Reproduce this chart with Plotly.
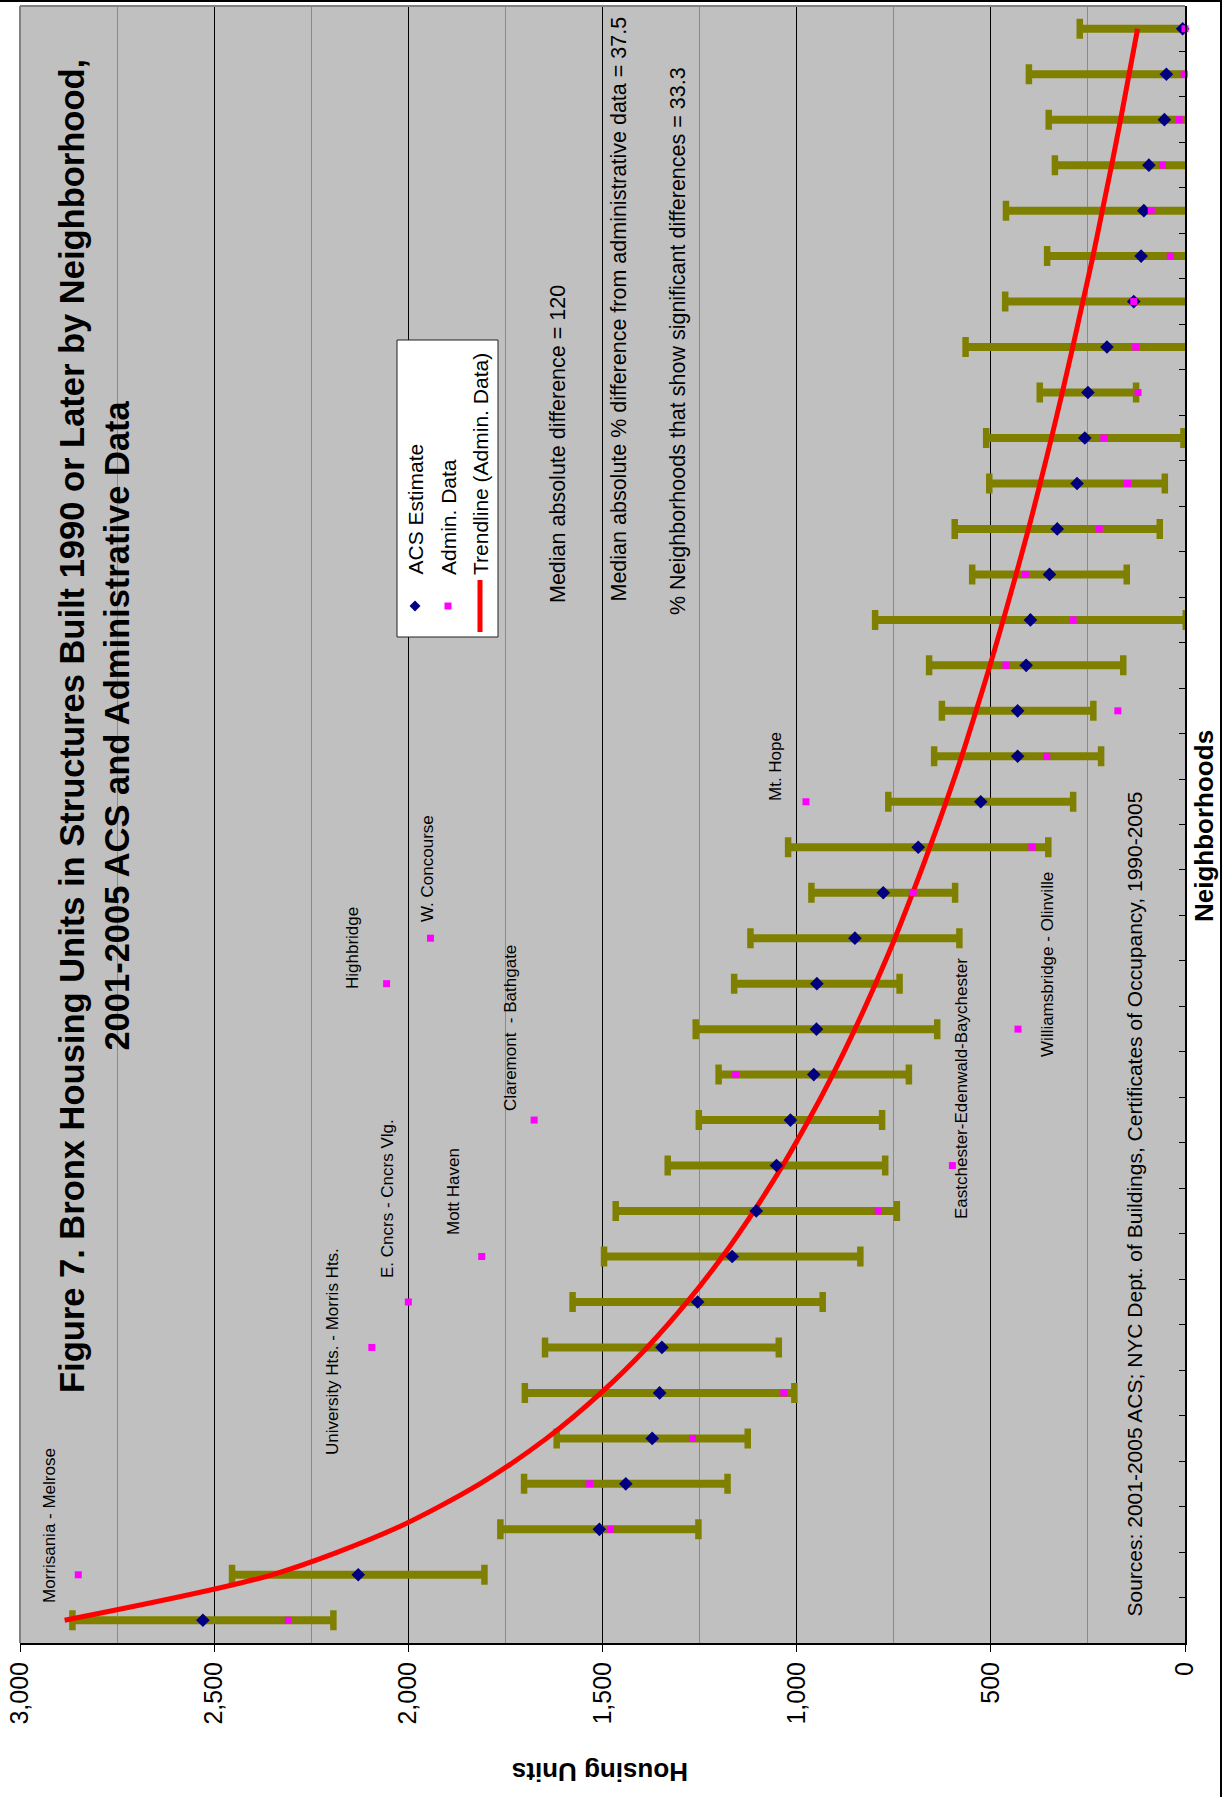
import plotly.graph_objects as go

# ---------------- data ----------------
rank = [1, 2, 3, 4, 5, 6, 7, 8, 9, 10, 11, 12, 13, 14, 15, 16, 17, 18,
        19, 20, 21, 22, 23, 24, 25, 26, 27, 28, 29, 30, 31, 32, 33, 34, 35, 36]
acs_estimate = [2529, 2129, 1508, 1440, 1372, 1353, 1347, 1255, 1166, 1104, 1052, 1016,
                956, 949, 948, 850, 777, 687, 526, 431, 431, 409, 398, 349,
                329, 278, 258, 250, 201, 132, 113, 106, 93, 53, 48, 6]
acs_moe = [336, 325, 255, 262, 246, 347, 301, 322, 330, 362, 280, 236,
           245, 311, 213, 269, 185, 335, 238, 215, 195, 250, 400, 199,
           264, 226, 254, 124, 364, 331, 242, 355, 242, 298, 354, 265]
admin_data = [2309, 2850, 1480, 1533, 1268, 1033, 2094, 2000, 1811, 790, 599, 1676,
              1157, 430, 2056, 1943, 700, 394, 976, 356, 173, 461, 288, 411,
              221, 148, 209, 121, 127, 132, 38, 87, 58, 15, 2, 0]
trend_admin = [2885, 2351, 2038, 1816, 1644, 1504, 1385, 1282, 1191, 1110, 1036, 969,
               907, 850, 797, 747, 701, 657, 615, 575, 538, 502, 468, 435,
               403, 373, 344, 316, 289, 263, 237, 213, 189, 166, 144, 122]
tick_vals = [0, 500, 1000, 1500, 2000, 2500, 3000]
tick_text = ["0", "500", "1,000", "1,500", "2,000", "2,500", "3,000"]
outlier_names = ["Morrisania - Melrose", "University Hts. - Morris Hts.", "E. Cncrs - Cncrs Vlg.",
                 "Mott Haven", "Claremont  - Bathgate", "Highbridge", "W. Concourse",
                 "Eastchester-Edenwald-Baychester", "Williamsbridge - Olinville", "Mt. Hope"]
stats_lines = ["Median absolute difference = 120",
               "Median absolute % difference from administrative data = 37.5",
               "% Neighborhoods that show significant differences = 33.3"]
title_text = ("Figure 7. Bronx Housing Units in Structures Built 1990 or Later by Neighborhood,"
              "<br>2001-2005 ACS and Administrative Data")
source_text = "Sources: 2001-2005 ACS; NYC Dept. of Buildings, Certificates of Occupancy, 1990-2005"
legend_names = ["ACS Estimate", "Admin. Data", "Trendline (Admin. Data)"]

# ---------------- layout helpers (page pixel -> paper) ----------------
L, R, T, B = 20, 40, 6, 154
W, H = 1225, 1797
PW, PH = W - L - R, H - T - B


def px(x):
    return (x - L) / PW


def py(y):
    return (H - B - y) / PH


FONT = "Liberation Sans, Arial, sans-serif"
OLIVE = "#808000"
NAVY = "#000080"
MAGENTA = "#FF00FF"

# label centres on the page (pixels)
label_pos = [(49, 1526), (332, 1352), (387, 1199), (453, 1192), (510, 1028),
             (352, 948), (427, 869), (961, 1089), (1047, 965), (776, 766)]

fig = go.Figure()

# error bar body (no caps)
fig.add_trace(go.Scatter(
    x=acs_estimate, y=rank, mode="markers",
    marker=dict(size=1, color=OLIVE),
    error_x=dict(type="data", array=acs_moe, symmetric=True,
                 color=OLIVE, thickness=8, width=0),
    hoverinfo="skip"))
# error bar caps
fig.add_trace(go.Scatter(
    x=acs_estimate, y=rank, mode="markers",
    marker=dict(size=1, color=OLIVE),
    error_x=dict(type="data", array=acs_moe, symmetric=True,
                 color=OLIVE, thickness=6.5, width=10),
    hoverinfo="skip"))
# trendline
fig.add_trace(go.Scatter(
    x=trend_admin, y=rank, mode="lines", name=legend_names[2],
    line=dict(color="#FF0000", width=5, shape="spline", smoothing=0.8)))
# ACS estimate
fig.add_trace(go.Scatter(
    x=acs_estimate, y=rank, mode="markers", name=legend_names[0], cliponaxis=False,
    marker=dict(symbol="diamond", size=10.5, color=NAVY)))
# Admin data
fig.add_trace(go.Scatter(
    x=admin_data, y=rank, mode="markers", name=legend_names[1], cliponaxis=False,
    marker=dict(symbol="square", size=7, color=MAGENTA)))

annotations = []
# title
annotations.append(dict(
    text="<b>" + title_text + "</b>", x=px(94), y=py(726), xref="paper", yref="paper",
    xanchor="center", yanchor="middle", textangle=-90, showarrow=False,
    font=dict(family=FONT, size=34.5, color="black"), align="center"))
# axis titles
annotations.append(dict(
    text="<b>Housing Units</b>", x=px(600), y=py(1772), xref="paper", yref="paper",
    xanchor="center", yanchor="middle", textangle=180, showarrow=False,
    font=dict(family=FONT, size=26, color="black")))
annotations.append(dict(
    text="<b>Neighborhoods</b>", x=px(1204), y=py(826), xref="paper", yref="paper",
    xanchor="center", yanchor="middle", textangle=-90, showarrow=False,
    font=dict(family=FONT, size=26, color="black")))
# source
annotations.append(dict(
    text=source_text, x=px(1134), y=py(1619), xref="paper", yref="paper",
    xanchor="center", yanchor="bottom", textangle=-90, showarrow=False,
    font=dict(family=FONT, size=21, color="black")))
# stats
for txt, (sx, sy) in zip(stats_lines, [(558, 605), (618, 604), (678, 617)]):
    annotations.append(dict(
        text=txt, x=px(sx), y=py(sy), xref="paper", yref="paper",
        xanchor="center", yanchor="bottom", textangle=-90, showarrow=False,
        font=dict(family=FONT, size=21.5, color="black")))
# outlier labels
for name, (lx, ly) in zip(outlier_names, label_pos):
    annotations.append(dict(
        text=name, x=px(lx), y=py(ly), xref="paper", yref="paper",
        xanchor="center", yanchor="middle", textangle=-90, showarrow=False,
        font=dict(family=FONT, size=17, color="black")))
# legend texts
for name, lx in zip(legend_names, [415, 448, 480]):
    annotations.append(dict(
        text=name, x=px(lx), y=py(577), xref="paper", yref="paper",
        xanchor="center", yanchor="bottom", textangle=-90, showarrow=False,
        font=dict(family=FONT, size=21, color="black")))

shapes = []
# plot-area border (left & top, grey)
shapes.append(dict(type="line", xref="paper", yref="paper", x0=0, x1=0, y0=0, y1=1,
                   line=dict(color="#808080", width=2), layer="above"))
shapes.append(dict(type="line", xref="paper", yref="paper", x0=0, x1=1, y0=1, y1=1,
                   line=dict(color="#808080", width=2), layer="above"))
# outer frame (top & right)
shapes.append(dict(type="line", xref="paper", yref="paper", x0=px(0), x1=px(1222),
                   y0=py(1), y1=py(1), line=dict(color="black", width=2)))
shapes.append(dict(type="line", xref="paper", yref="paper", x0=px(1221), x1=px(1221),
                   y0=py(0), y1=py(1797), line=dict(color="black", width=2)))
# legend box
shapes.append(dict(type="rect", xref="paper", yref="paper", x0=px(397), x1=px(498),
                   y0=py(637), y1=py(340), fillcolor="white",
                   line=dict(color="#202020", width=1), layer="above"))
# legend symbols
cx, cy, d = 415, 606, 5.5
shapes.append(dict(type="path", xref="paper", yref="paper",
                   path=f"M {px(cx)},{py(cy-d)} L {px(cx+d)},{py(cy)} L {px(cx)},{py(cy+d)} L {px(cx-d)},{py(cy)} Z",
                   fillcolor=NAVY, line=dict(color=NAVY, width=0), layer="above"))
sx, sy, s = 448, 606, 3.5
shapes.append(dict(type="rect", xref="paper", yref="paper", x0=px(sx-s), x1=px(sx+s),
                   y0=py(sy+s), y1=py(sy-s), fillcolor=MAGENTA,
                   line=dict(color=MAGENTA, width=0), layer="above"))
shapes.append(dict(type="line", xref="paper", yref="paper", x0=px(480), x1=px(480),
                   y0=py(632), y1=py(580), line=dict(color="#FF0000", width=5), layer="above"))

fig.update_layout(
    width=W, height=H,
    margin=dict(l=L, r=R, t=T, b=B, autoexpand=False),
    paper_bgcolor="white", plot_bgcolor="#C0C0C0",
    showlegend=False,
    font=dict(family=FONT, color="black"),
    annotations=annotations, shapes=shapes,
)
fig.update_xaxes(
    range=[3000, 0], tickmode="array", tickvals=tick_vals, ticktext=tick_text,
    tickangle=-90, ticks="outside", ticklen=7, tickcolor="black", tickwidth=1,
    tickfont=dict(family=FONT, size=25, color="black"),
    showgrid=True, gridcolor="black", gridwidth=1,
    minor=dict(tickmode="array", tickvals=[250, 750, 1250, 1750, 2250, 2750],
               showgrid=True, gridcolor="#8a8a8a", gridwidth=1),
    showline=True, linecolor="black", linewidth=2, zeroline=False,
)
fig.update_yaxes(
    range=[0.5, 36.5], side="right", tickmode="array",
    tickvals=[v + 0.5 for v in range(0, 37)], showticklabels=False,
    ticks="inside", ticklen=6, tickcolor="black", tickwidth=1,
    showgrid=False, zeroline=False, showline=True, linecolor="black", linewidth=2,
)

fig.write_html("out.html",
               config={"displayModeBar": False},
               post_script="document.body.style.margin='0';document.body.style.overflow='hidden';")
